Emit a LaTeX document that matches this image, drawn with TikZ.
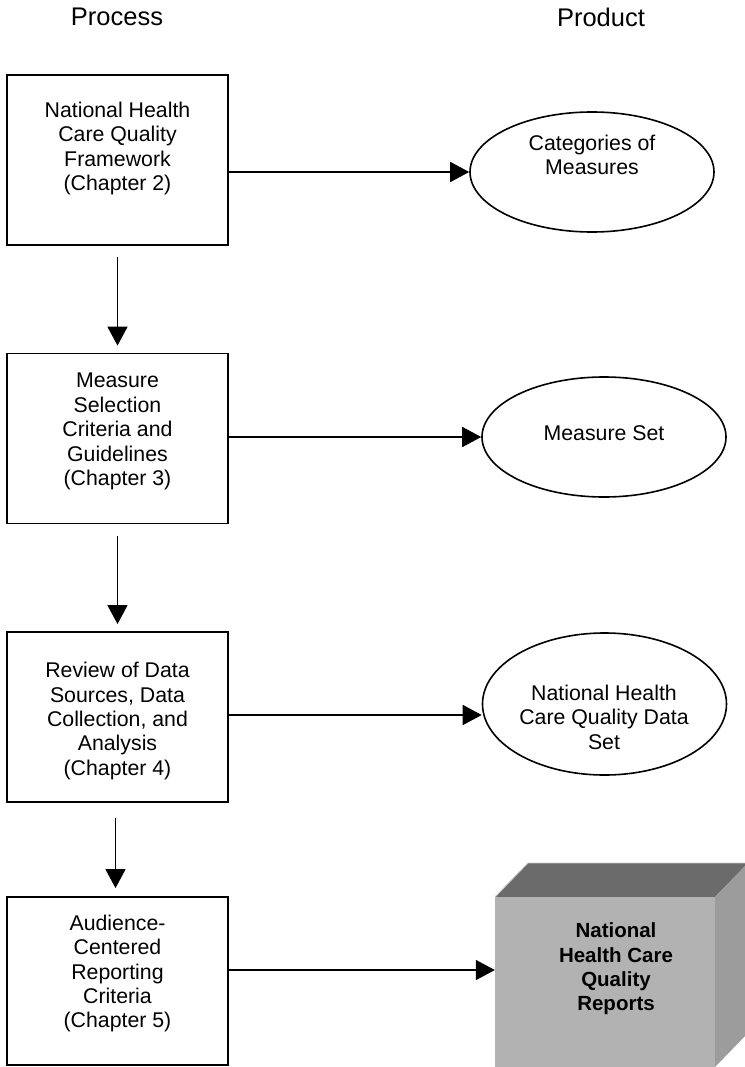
\documentclass[tikz,border=0pt]{standalone}
\usepackage{fontspec}
\setmainfont{Liberation Sans}
\usetikzlibrary{arrows.meta,shapes.geometric}
\begin{document}
\begin{tikzpicture}[x=1pt,y=-1pt,
  lbl/.style={font=\fontsize{21.3}{24.4}\selectfont, align=center, inner sep=0pt},
  headlbl/.style={font=\fontsize{25.5}{28}\selectfont, align=center, inner sep=0pt},
  boldlbl/.style={font=\fontsize{20.5}{24.4}\selectfont\bfseries, align=center, inner sep=0pt},
  procbox/.style={draw, line width=1.8pt, minimum width=221pt, minimum height=170pt, inner sep=0pt},
  prodell/.style={draw, ellipse, line width=1.6pt, minimum width=244pt, inner sep=0pt},
  arr/.style={line width=1.6pt, -{Triangle[length=19pt,width=20pt]}}]
\useasboundingbox (0,0) rectangle (744,1067);

% headings
\node[headlbl] (hproc) at (117,17) {Process};
\node[headlbl] (hprod) at (601,17) {Product};

% process boxes
\node[procbox] (b1) at (117.5,160) {};
\node[lbl] (t1) at (117.5,148.5) {National Health\\Care Quality\\Framework\\(Chapter 2)};
\node[procbox] (b2) at (117.5,438.5) {};
\node[lbl] (t2) at (117.5,431.5) {Measure\\Selection\\Criteria and\\Guidelines\\(Chapter 3)};
\node[procbox] (b3) at (117.5,717) {};
\node[lbl] (t3) at (117.5,721) {Review of Data\\Sources, Data\\Collection, and\\Analysis\\(Chapter 4)};
\node[procbox, minimum height=168pt] (b4) at (117.5,981) {};
\node[lbl] (t4) at (117.5,973.5) {Audience-\\Centered\\Reporting\\Criteria\\(Chapter 5)};

% products
\node[prodell, minimum height=120pt] (e1) at (592,172) {};
\node[lbl] (p1) at (592,155) {Categories of\\Measures};
\node[prodell, minimum height=120pt] (e2) at (604,437) {};
\node[lbl] (p2) at (604,433) {Measure Set};
\node[prodell, minimum height=142pt] (e3) at (604.5,704) {};
\node[lbl] (p3) at (604,717) {National Health\\Care Quality Data\\Set};

% cube
\fill[black!58] (495,897) -- (528,863) -- (748,863) -- (715,897) -- cycle;
\fill[black!39] (715,897) -- (748,863) -- (748,1033) -- (715,1067) -- cycle;
\draw[black!22, line width=0.8pt] (495,897) -- (528,863) -- (748,863);
\node[fill=black!30, minimum width=220pt, minimum height=170pt, inner sep=0pt] (cube) at (605,982) {};
\node[boldlbl] (p4) at (616,969) {National\\Health Care\\Quality\\Reports};

% vertical connectors
\draw[arr, shorten <=11pt, shorten >=7pt] (b1.south) -- (b2.north);
\draw[arr, shorten <=12pt, shorten >=7pt] (b2.south) -- (b3.north);
\draw[arr, shorten <=15pt, shorten >=8pt] ([xshift=-2pt]b3.south) -- ([xshift=-2pt]b4.north);

% horizontal connectors
\coordinate (a3) at (0,715);
\coordinate (a4) at (0,970);
\draw[arr] (b1.east |- e1.west) -- (e1.west);
\draw[arr] (b2.east |- e2.west) -- (e2.west);
\draw[arr] (b3.east |- a3) -- (e3.west |- a3);
\draw[arr] (b4.east |- a4) -- (cube.west |- a4);
\end{tikzpicture}
\end{document}
